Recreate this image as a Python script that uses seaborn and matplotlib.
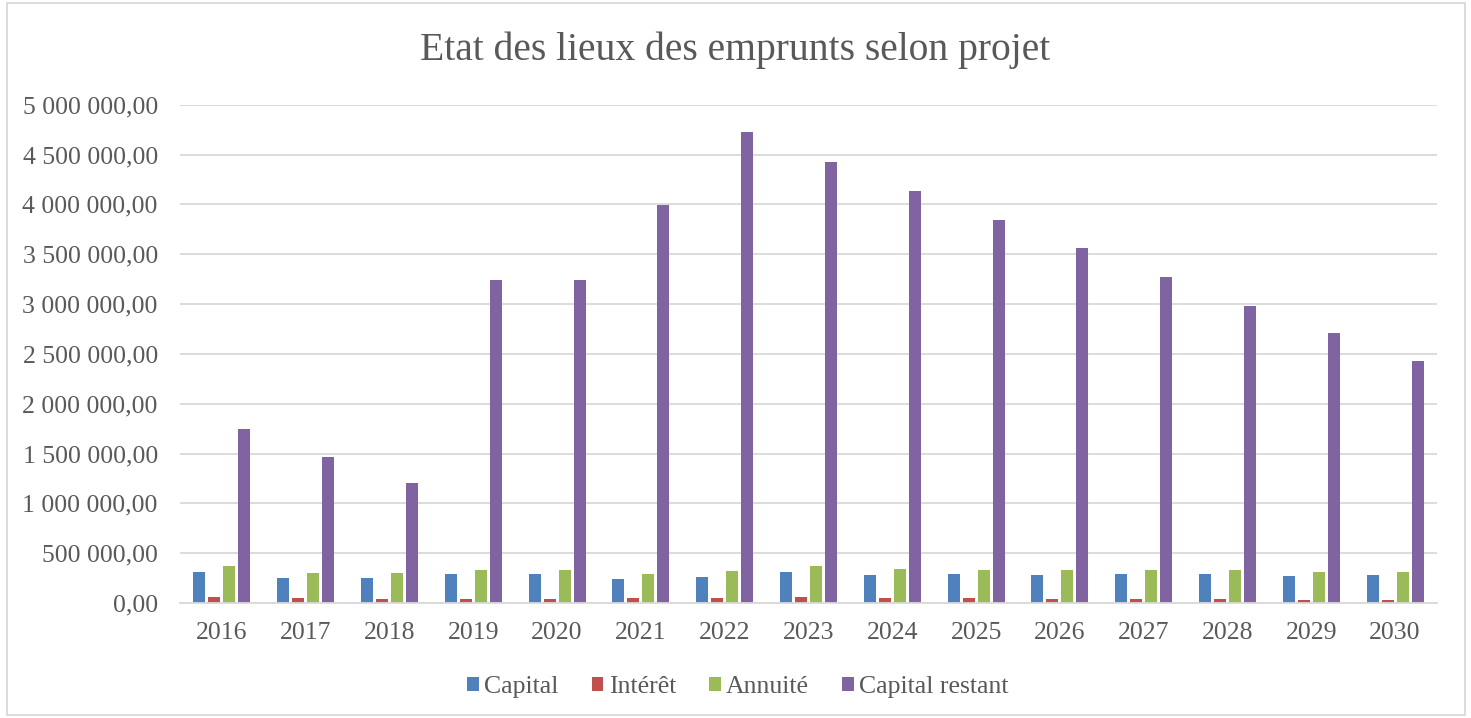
import pandas as pd
import matplotlib
matplotlib.use("Agg")
import matplotlib.pyplot as plt
import seaborn as sns
from matplotlib.patches import Rectangle
from matplotlib.ticker import FuncFormatter, MultipleLocator

sns.set_theme(style="white")
plt.rcParams["font.family"] = ["Liberation Serif", "DejaVu Serif"]

# ==========================================
# Data
# ==========================================
years = ["2016", "2017", "2018", "2019", "2020", "2021", "2022", "2023",
         "2024", "2025", "2026", "2027", "2028", "2029", "2030"]
series_names = ["Capital", "Intérêt", "Annuité", "Capital restant"]

capital = [311000, 255000, 253000, 290000, 290000, 240000, 265000, 310000,
           285000, 287000, 283000, 287000, 290000, 275000, 280000]
interet = [56000, 50000, 45000, 44000, 44000, 47000, 55000, 57000,
           52000, 47000, 44000, 40000, 37000, 32000, 28000]
annuite = [367000, 305000, 298000, 334000, 334000, 287000, 320000, 367000,
           337000, 334000, 327000, 327000, 327000, 307000, 308000]
capital_restant = [1745000, 1460000, 1200000, 3240000, 3240000, 3998000, 4730000, 4423000,
                   4135000, 3845000, 3564000, 3273000, 2982000, 2708000, 2427000]

colors = ["#4F81BD", "#C0504D", "#9BBB59", "#8064A2"]
text_color = "#595959"
grid_color = "#D9D9D9"

df = pd.DataFrame({
    "Année": years * 4,
    "Montant": capital + interet + annuite + capital_restant,
    "Série": sum([[name] * len(years) for name in series_names], []),
})

# ==========================================
# Plot
# ==========================================
fig = plt.figure(figsize=(14.71, 7.18), dpi=100)
ax = fig.add_axes([180 / 1471, 1 - 603 / 718, (1437 - 180) / 1471, (603 - 104.7) / 718])

sns.barplot(data=df, x="Année", y="Montant", hue="Série", hue_order=series_names,
            palette=colors, saturation=1, width=0.716, gap=0.2, linewidth=0, ax=ax)

ax.get_legend().remove()
handles, labels = ax.get_legend_handles_labels()

ax.set_ylim(0, 5000000)
ax.set_xlim(-0.5, len(years) - 0.5)
ax.yaxis.set_major_locator(MultipleLocator(500000))
ax.yaxis.set_major_formatter(FuncFormatter(
    lambda v, p: f"{v:,.2f}".replace(",", " ").replace(".", ",")))

ax.yaxis.grid(True, color=grid_color, lw=1.3)
ax.set_axisbelow(True)
for side in ["left", "right", "top"]:
    ax.spines[side].set_visible(False)
ax.spines["bottom"].set_color(grid_color)
ax.spines["bottom"].set_linewidth(1.3)

ax.tick_params(axis="both", length=0, labelsize=18.5, labelcolor=text_color)
ax.tick_params(axis="y", pad=16)
ax.tick_params(axis="x", pad=14)
ax.set_xlabel("")
ax.set_ylabel("")

fig.text(0.5, 1 - 50 / 718, "Etat des lieux des emprunts selon projet",
         ha="center", va="center", fontsize=28.5, color=text_color)

leg = fig.legend(handles, labels, loc="center", bbox_to_anchor=(738 / 1471, 1 - 687 / 718),
                 ncol=4, frameon=False, fontsize=18.5, handlelength=0.45, handleheight=0.45,
                 handletextpad=0.2, columnspacing=1.3, labelcolor=text_color)

fig.patches.append(Rectangle((7 / 1471, 3 / 718), (1465 - 7) / 1471, (715 - 3) / 718,
                             transform=fig.transFigure, fill=False,
                             edgecolor=grid_color, lw=1.3))

plt.savefig("out.png", dpi=100)
